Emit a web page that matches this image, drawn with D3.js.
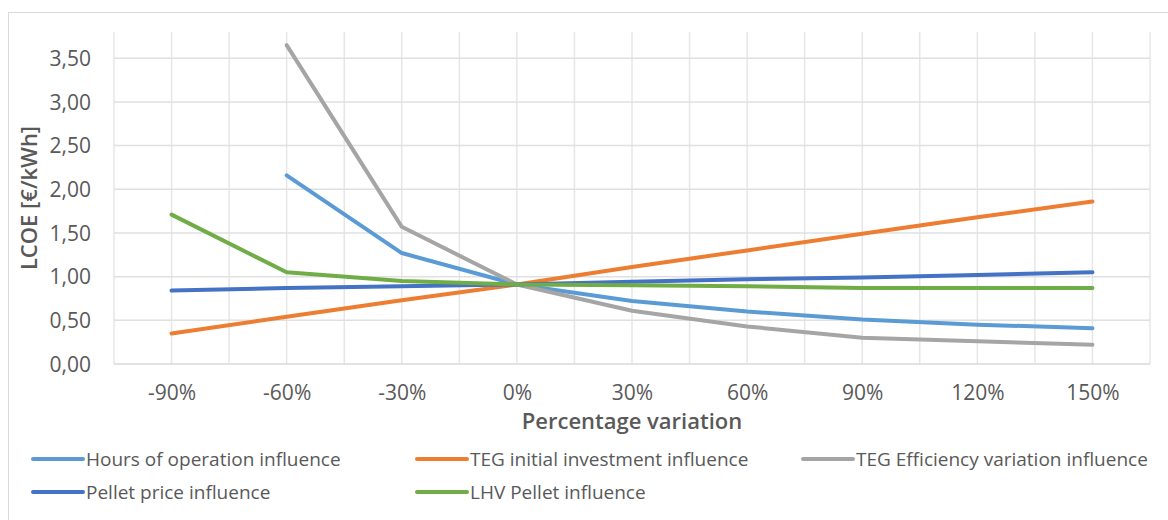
<!DOCTYPE html>
<html><head><meta charset="utf-8">
<script src="https://cdn.jsdelivr.net/npm/d3@7"></script>
<style>body{margin:0;background:#fff}svg{display:block}text{font-family:"Open Sans",sans-serif}</style>
</head><body><svg id="c" width="1168" height="520"></svg>
<script>
const categories = ["-90%","-60%","-30%","0%","30%","60%","90%","120%","150%"];
const hoursOperation = [null,2.16,1.27,0.91,0.72,0.60,0.51,0.45,0.41];
const tegInvestment = [0.35,0.54,0.73,0.91,1.11,1.30,1.49,1.68,1.86];
const tegEfficiency = [null,3.65,1.57,0.91,0.61,0.43,0.30,0.26,0.22];
const pelletPrice = [0.84,0.87,0.89,0.91,0.94,0.97,0.99,1.02,1.05];
const lhvPellet = [1.71,1.05,0.95,0.91,0.90,0.89,0.87,0.87,0.87];
const yTicks = [0,0.5,1,1.5,2,2.5,3,3.5];
const seriesNames = ["Hours of operation influence","TEG initial investment influence","TEG Efficiency variation influence","Pellet price influence","LHV Pellet influence"];
const seriesValues = [hoursOperation,tegInvestment,tegEfficiency,pelletPrice,lhvPellet];
const colors = ["#5B9BD5","#ED7D31","#A5A5A5","#4472C4","#70AD47"];

const svg = d3.select("#c");
// chart border
svg.append("rect").attr("x",8.5).attr("y",12.5).attr("width",1200).attr("height",600)
  .attr("fill","none").attr("stroke","#d9d9d9").attr("stroke-width",1);

const L=114, R=1150, T=32, B=364;
const x = d3.scalePoint().domain(categories).range([L,R]).padding(0.5);
const step = x.step();
const y = d3.scaleLinear().domain([0,3.8]).range([B,T]);

const g = svg.append("g");
// vertical gridlines every half-category
const vlines = d3.range(0, categories.length*2+1).map(i => L + i*step/2);
g.selectAll(".vg").data(vlines).enter().append("line")
  .attr("x1",d=>d).attr("x2",d=>d).attr("y1",T).attr("y2",B)
  .attr("stroke","#e6e6e6").attr("stroke-width",1.5);
// horizontal gridlines
g.selectAll(".hg").data(yTicks).enter().append("line")
  .attr("x1",L).attr("x2",R).attr("y1",d=>y(d)).attr("y2",d=>y(d))
  .attr("stroke",(d)=>d===0?"#d9d9d9":"#e0e0e0").attr("stroke-width",1.5);

// y axis labels
const fmt = v => d3.format(".2f")(v).replace(".",",");
const yAxis = d3.axisLeft(y).tickValues(yTicks).tickFormat(fmt).tickSize(0).tickPadding(0);
const ya = svg.append("g").attr("transform",`translate(${L-23},0)`).call(yAxis);
ya.select(".domain").remove();
ya.selectAll("text").attr("fill","#595959").style("font-size","21px").attr("dy","0.35em");

// x axis labels
const xAxis = d3.axisBottom(x).tickSize(0).tickPadding(0);
const xa = svg.append("g").attr("transform",`translate(0,${B+21})`).call(xAxis);
xa.select(".domain").remove();
xa.selectAll("text").attr("fill","#595959").style("font-size","21px").attr("dy","0.71em");

// axis titles
svg.append("text").attr("x",(L+R)/2).attr("y",421).attr("dy","0.35em").attr("text-anchor","middle")
  .attr("fill","#595959").style("font-size","22px").style("font-weight","600").text("Percentage variation");
svg.append("text").attr("transform",`translate(29,${(T+B)/2}) rotate(-90)`).attr("dy","0.35em")
  .attr("text-anchor","middle").attr("fill","#595959").style("font-size","22px").style("font-weight","600")
  .text("LCOE [€/kWh]");

// lines
const line = d3.line().defined(d=>d.v!==null).x(d=>x(d.c)).y(d=>y(d.v));
seriesValues.forEach((vals,i)=>{
  const data = vals.map((v,j)=>({c:categories[j],v}));
  svg.append("path").datum(data).attr("d",line).attr("fill","none")
    .attr("stroke",colors[i]).attr("stroke-width",4).attr("stroke-linejoin","round").attr("stroke-linecap","round");
});

// legend
const legendPos = [[33,459],[417,459],[803,459],[33,492],[417,492]];
seriesNames.forEach((n,i)=>{
  const [lx,ly]=legendPos[i];
  svg.append("line").attr("x1",lx).attr("x2",lx+50).attr("y1",ly).attr("y2",ly)
    .attr("stroke",colors[i]).attr("stroke-width",4).attr("stroke-linecap","round");
  svg.append("text").attr("x",lx+53).attr("y",ly).attr("dy","0.35em").attr("fill","#595959")
    .style("font-size","19px").text(n);
});
</script></body></html>
